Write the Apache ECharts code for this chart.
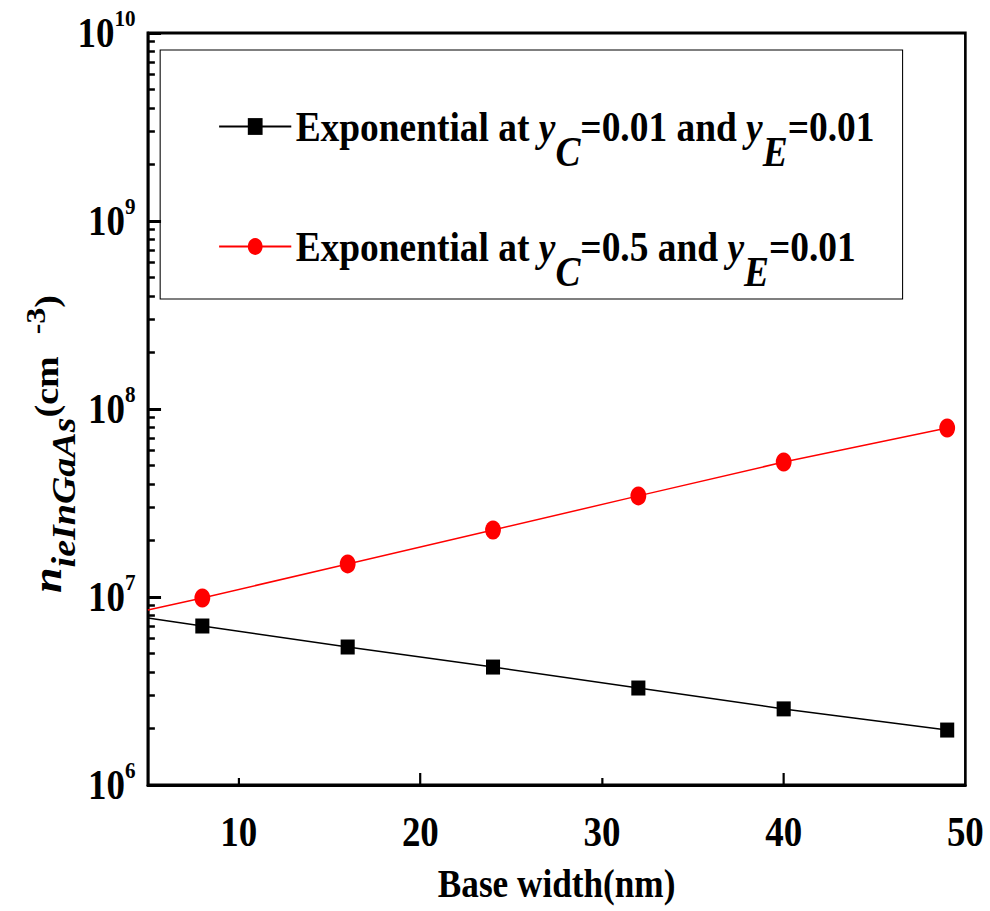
<!DOCTYPE html>
<html>
<head>
<meta charset="utf-8">
<script src="https://cdn.jsdelivr.net/npm/echarts@6/dist/echarts.min.js"></script>
<style>
  html, body { margin: 0; padding: 0; overflow: hidden; background: #fff; }
  /* The figure is drawn slightly wider and condensed horizontally, like the original print */
  #chart { width: 1125px; height: 911px; transform: scaleX(0.88); transform-origin: 0 0; }
</style>
</head>
<body>
<div id="chart"></div>
<script>
// Base width (nm) of the sampled points
const baseWidth = [8, 16, 24, 32, 40, 49];
// Intrinsic carrier concentration n_ie,InGaAs (cm^-3)
const nieYc001 = [7.01e6, 5.42e6, 4.24e6, 3.28e6, 2.54e6, 1.96e6];
const nieYc05 = [9.88e6, 1.50e7, 2.27e7, 3.45e7, 5.22e7, 7.92e7];
// Exponential fit evaluated at the left edge of the axis (x = 5 nm)
const fitStartX = 5;
const fitStartYc001 = 7.73e6;
const fitStartYc05 = 8.53e6;

const seriesNames = [
  'Exponential at yC=0.01 and yE=0.01',
  'Exponential at yC=0.5 and yE=0.01'
];

// Axis ticks
const xLabelValues = [10, 20, 30, 40, 50];
const xMajorTicks = [20, 40];
const xMinorTicks = [10, 30];
const yDecadeMin = 6, yDecadeMax = 10;
const yMinorMultipliers = [2, 3, 4, 5, 6, 7, 8, 9];

// log10 positions of the minor ticks inside every decade
const yMinorTickLogs = [];
for (let d = yDecadeMin; d < yDecadeMax; d++) {
  yMinorMultipliers.forEach(m => yMinorTickLogs.push(Math.log10(m * Math.pow(10, d))));
}

const FONT = "'Liberation Serif', 'Times New Roman', serif";

function fitSeries(startX, startY, xs, ys) {
  const data = [{ value: [startX, startY], symbol: 'none' }];
  xs.forEach((x, i) => data.push([x, ys[i]]));
  return data;
}

const chart = echarts.init(document.getElementById('chart'), null, { renderer: 'svg' });

const tickLabelRich = {
  a: { fontFamily: FONT, fontWeight: 'bold', fontSize: 42, color: '#000', lineHeight: 44 },
  b: { fontFamily: FONT, fontWeight: 'bold', fontSize: 24, color: '#000', lineHeight: 26, padding: [0, 0, 30, 0] }
};

const legendRich = {
  i: { fontFamily: FONT, fontWeight: 'bold', fontStyle: 'italic', fontSize: 42.5, color: '#000', lineHeight: 46 },
  s: { fontFamily: FONT, fontWeight: 'bold', fontStyle: 'italic', fontSize: 42.5, color: '#000', lineHeight: 46, padding: [50, 0, 0, 0] }
};

const option = {
  animation: false,
  backgroundColor: '#fff',
  grid: {
    left: 168, right: 28, top: 33, bottom: 126,
    outerBoundsMode: 'none',
    containLabel: false,
    show: true, borderColor: '#000', borderWidth: 3, backgroundColor: 'transparent'
  },
  legend: {
    left: 182, top: 50,
    orient: 'vertical',
    padding: [30, 32, 6, 66],
    itemGap: 27,
    itemWidth: 82, itemHeight: 21,
    borderColor: '#000', borderWidth: 1.2,
    selectedMode: false,
    data: seriesNames,
    formatter: name => name.replace(/y([CE])/g, '{i|y}{s|$1}'),
    textStyle: {
      fontFamily: FONT, fontWeight: 'bold', fontSize: 42.5, color: '#000', lineHeight: 46,
      rich: legendRich
    }
  },
  xAxis: [
    {
      type: 'value', min: 5, max: 50, position: 'bottom',
      axisLine: { show: true, onZero: false, lineStyle: { color: '#000', width: 3 } },
      axisTick: { show: true, inside: true, length: 12, lineStyle: { color: '#000', width: 2.5 }, customValues: xMajorTicks },
      axisLabel: {
        show: true, customValues: xLabelValues, margin: 26,
        fontFamily: FONT, fontWeight: 'bold', fontSize: 42, color: '#000'
      },
      splitLine: { show: false },
      name: 'Base width(nm)', nameLocation: 'middle', nameGap: 78, nameMoveOverlap: false,
      nameTextStyle: { fontFamily: FONT, fontWeight: 'bold', fontSize: 40, color: '#000' }
    },
    {
      type: 'value', min: 5, max: 50, position: 'bottom',
      axisLine: { show: false, onZero: false },
      axisTick: { show: true, inside: true, length: 7, lineStyle: { color: '#000', width: 2.5 }, customValues: xMinorTicks },
      axisLabel: { show: false },
      splitLine: { show: false }
    }
  ],
  yAxis: [
    {
      type: 'log', logBase: 10, min: Math.pow(10, yDecadeMin), max: Math.pow(10, yDecadeMax), interval: 1,
      position: 'left',
      axisLine: { show: true, onZero: false, lineStyle: { color: '#000', width: 3 } },
      axisTick: { show: true, inside: true, length: 15, lineStyle: { color: '#000', width: 3 } },
      axisLabel: {
        show: true, margin: 14,
        formatter: v => '{a|10}{b|' + Math.round(Math.log10(v)) + '}',
        rich: tickLabelRich
      },
      splitLine: { show: false },
      minorTick: { show: false },
      name: '{n|n}{s|ieInGaAs}{p|(cm}{e|-3}{p|)}',
      nameLocation: 'middle', nameRotate: 90, nameGap: 92, nameMoveOverlap: false,
      nameTextStyle: {
        padding: [0, 70, 0, 0],
        rich: {
          n: { fontFamily: FONT, fontWeight: 'bold', fontStyle: 'italic', fontSize: 46, color: '#000', lineHeight: 46 },
          s: { fontFamily: FONT, fontWeight: 'bold', fontStyle: 'italic', fontSize: 38, color: '#000', lineHeight: 40, padding: [40, 0, 0, 0] },
          p: { fontFamily: FONT, fontWeight: 'bold', fontSize: 38, color: '#000', lineHeight: 40 },
          e: { fontFamily: FONT, fontWeight: 'bold', fontSize: 32, color: '#000', lineHeight: 32, padding: [0, 0, 26, 22] }
        }
      }
    },
    {
      type: 'value', min: yDecadeMin, max: yDecadeMax, position: 'left',
      axisLine: { show: false, onZero: false },
      axisTick: { show: true, inside: true, length: 8, lineStyle: { color: '#000', width: 2.5 }, customValues: yMinorTickLogs },
      axisLabel: { show: false },
      splitLine: { show: false }
    }
  ],
  series: [
    {
      name: seriesNames[0], type: 'line', xAxisIndex: 0, yAxisIndex: 0,
      symbol: 'rect', symbolSize: [16, 15],
      lineStyle: { color: '#000', width: 1.5 },
      itemStyle: { color: '#000' },
      data: fitSeries(fitStartX, fitStartYc001, baseWidth, nieYc001)
    },
    {
      name: seriesNames[1], type: 'line', xAxisIndex: 0, yAxisIndex: 0,
      symbol: 'circle', symbolSize: [18, 19],
      lineStyle: { color: '#ff0000', width: 1.5 },
      itemStyle: { color: '#ff0000' },
      data: fitSeries(fitStartX, fitStartYc05, baseWidth, nieYc05)
    }
  ]
};

chart.setOption(option);
</script>
</body>
</html>
